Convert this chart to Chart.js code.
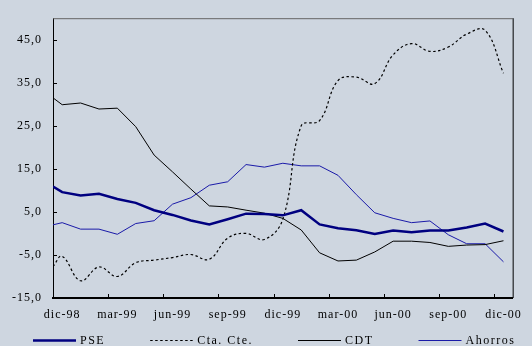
<!DOCTYPE html>
<html>
<head>
<meta charset="utf-8">
<script src="https://cdn.jsdelivr.net/npm/chart.js@4/dist/chart.umd.min.js"></script>
<style>
  html, body { margin: 0; padding: 0; background: #CED6E0; }
  canvas { display: block; }
</style>
</head>
<body>
<canvas id="grafico" width="532" height="346"></canvas>
<script>
// Observaciones: cierre de nov-98 y luego una por mes hasta dic-00
const periodos = ['nov-98', 'dic-98', 'ene-99', 'feb-99', 'mar-99', 'abr-99', 'may-99', 'jun-99',
  'jul-99', 'ago-99', 'sep-99', 'oct-99', 'nov-99', 'dic-99', 'ene-00', 'feb-00', 'mar-00',
  'abr-00', 'may-00', 'jun-00', 'jul-00', 'ago-00', 'sep-00', 'oct-00', 'nov-00', 'dic-00'];

const pse = [10.9, 9.6, 8.8, 9.2, 8.0, 7.1, 5.4, 4.3, 3.0, 2.1, 3.3, 4.6, 4.5, 4.2, 5.4, 2.1,
  1.2, 0.75, -0.1, 0.7, 0.3, 0.7, 0.7, 1.4, 2.3, 0.45];
const ctaCte = [-7.7, -5.3, -11.0, -7.8, -10.0, -6.8, -6.2, -5.6, -4.9, -6.0, -1.1, 0.0, -1.4,
  3.3, 25.0, 26.2, 35.5, 36.3, 34.8, 41.5, 44.1, 42.3, 43.3, 46.3, 47.2, 37.2];
const cdt = [31.5, 29.9, 30.3, 28.9, 29.1, 24.8, 18.2, 14.3, 10.3, 6.4, 6.15, 5.4, 4.7, 3.5,
  0.8, -4.5, -6.4, -6.2, -4.3, -1.8, -1.8, -2.1, -3.0, -2.7, -2.6, -1.7];
const ahorros = [2.0, 2.5, 1.0, 1.0, -0.2, 2.3, 2.95, 6.8, 8.3, 11.2, 12.0, 16.0, 15.4, 16.3,
  15.7, 15.7, 13.5, 9.0, 4.8, 3.5, 2.5, 2.9, -0.3, -2.4, -2.4, -6.6];

const etiquetasX = ['dic-98', 'mar-99', 'jun-99', 'sep-99', 'dic-99', 'mar-00', 'jun-00', 'sep-00', 'dic-00'];
const ticksY = [-15, -5, 5, 15, 25, 35, 45];

const FUENTE = '"Liberation Serif", "Times New Roman", serif';
const formato = v => v.toFixed(1).replace('.', ',');

// Eje en meses: el primer dato cae sobre el eje, los demás a mitad de cada mes
const posX = i => (i === 0 ? 0 : i - 0.5);
const serie = vals => vals.map((v, i) => ({ x: posX(i), y: v }));

const espaciado = {
  id: 'espaciado',
  beforeUpdate(chart) { chart.ctx.letterSpacing = '1px'; },
  beforeDraw(chart) { chart.ctx.letterSpacing = '1px'; }
};

const marco = {
  id: 'marco',
  afterDraw(chart) {
    const { ctx, chartArea: a, scales: { x, y } } = chart;
    ctx.save();
    ctx.lineWidth = 1;
    ctx.strokeStyle = '#000';
    ctx.beginPath();
    ticksY.forEach(v => {
      const py = Math.round(y.getPixelForValue(v)) + 0.5;
      ctx.moveTo(a.left, py);
      ctx.lineTo(a.left + 4, py);
    });
    for (let m = 3; m <= 24; m += 3) {
      const px = Math.round(x.getPixelForValue(m)) + 0.5;
      ctx.moveTo(px, a.bottom);
      ctx.lineTo(px, a.bottom - 4);
    }
    ctx.stroke();
    ctx.strokeStyle = '#666';
    ctx.beginPath();
    ctx.moveTo(a.left, a.top + 0.5);
    ctx.lineTo(a.right, a.top + 0.5);
    ctx.stroke();
    ctx.strokeStyle = '#000';
    ctx.beginPath();
    ctx.moveTo(a.right + 0.5, a.top);
    ctx.lineTo(a.right + 0.5, a.bottom);
    ctx.stroke();
    ctx.restore();
  }
};

const leyenda = {
  id: 'leyenda',
  afterDraw(chart) {
    const ctx = chart.ctx;
    ctx.save();
    ctx.font = '12px ' + FUENTE;
    ctx.letterSpacing = '1.5px';
    ctx.textBaseline = 'middle';
    ctx.textAlign = 'left';
    ctx.fillStyle = '#000';
    const y = 340.5, muestra = 43, separacionTexto = 4, separacionItem = 45;
    let x = 33;
    chart.data.datasets.forEach(ds => {
      ctx.beginPath();
      ctx.strokeStyle = ds.borderColor;
      ctx.lineWidth = ds.borderWidth;
      ctx.setLineDash(ds.borderDash || []);
      ctx.moveTo(x, y);
      ctx.lineTo(x + muestra, y);
      ctx.stroke();
      ctx.setLineDash([]);
      x += muestra + separacionTexto;
      ctx.fillText(ds.label, x, y);
      x += ctx.measureText(ds.label).width + separacionItem;
    });
    ctx.restore();
  }
};

new Chart(document.getElementById('grafico'), {
  type: 'line',
  data: {
    datasets: [
      { label: 'PSE', data: serie(pse), borderColor: '#000080', borderWidth: 2.5, tension: 0 },
      { label: 'Cta. Cte.', data: serie(ctaCte), borderColor: '#000000', borderWidth: 1.2,
        borderDash: [2.5, 2.5], tension: 0.4 },
      { label: 'CDT', data: serie(cdt), borderColor: '#000000', borderWidth: 1, tension: 0 },
      { label: 'Ahorros', data: serie(ahorros), borderColor: '#1A1AA8', borderWidth: 1, tension: 0 }
    ]
  },
  options: {
    responsive: false,
    animation: false,
    devicePixelRatio: 1,
    layout: { padding: { top: 13, right: 10, left: 0, bottom: 0 } },
    elements: { point: { radius: 0 }, line: { borderCapStyle: 'butt', borderJoinStyle: 'miter' } },
    plugins: { legend: { display: false }, tooltip: { enabled: false } },
    scales: {
      x: {
        type: 'linear',
        min: 0,
        max: 25,
        grid: { display: false, drawTicks: false },
        border: { display: true, color: '#000', width: 2 },
        afterBuildTicks(scale) {
          scale.ticks = etiquetasX.map((_, k) => ({ value: 3 * k + 0.5 }));
        },
        afterFit(scale) { scale.height = 48; },
        ticks: {
          autoSkip: false,
          maxRotation: 0,
          padding: 10,
          color: '#000',
          font: { family: FUENTE, size: 12 },
          callback: (v, i) => etiquetasX[i]
        }
      },
      y: {
        min: -15,
        max: 50,
        grid: { display: false, drawTicks: false },
        border: { display: true, color: '#000', width: 1 },
        afterBuildTicks(scale) {
          scale.ticks = ticksY.map(v => ({ value: v }));
        },
        afterFit(scale) { scale.width = 53; },
        ticks: {
          padding: 11,
          color: '#000',
          font: { family: FUENTE, size: 12 },
          callback: v => formato(v)
        }
      }
    }
  },
  plugins: [espaciado, marco, leyenda]
});
</script>
</body>
</html>
